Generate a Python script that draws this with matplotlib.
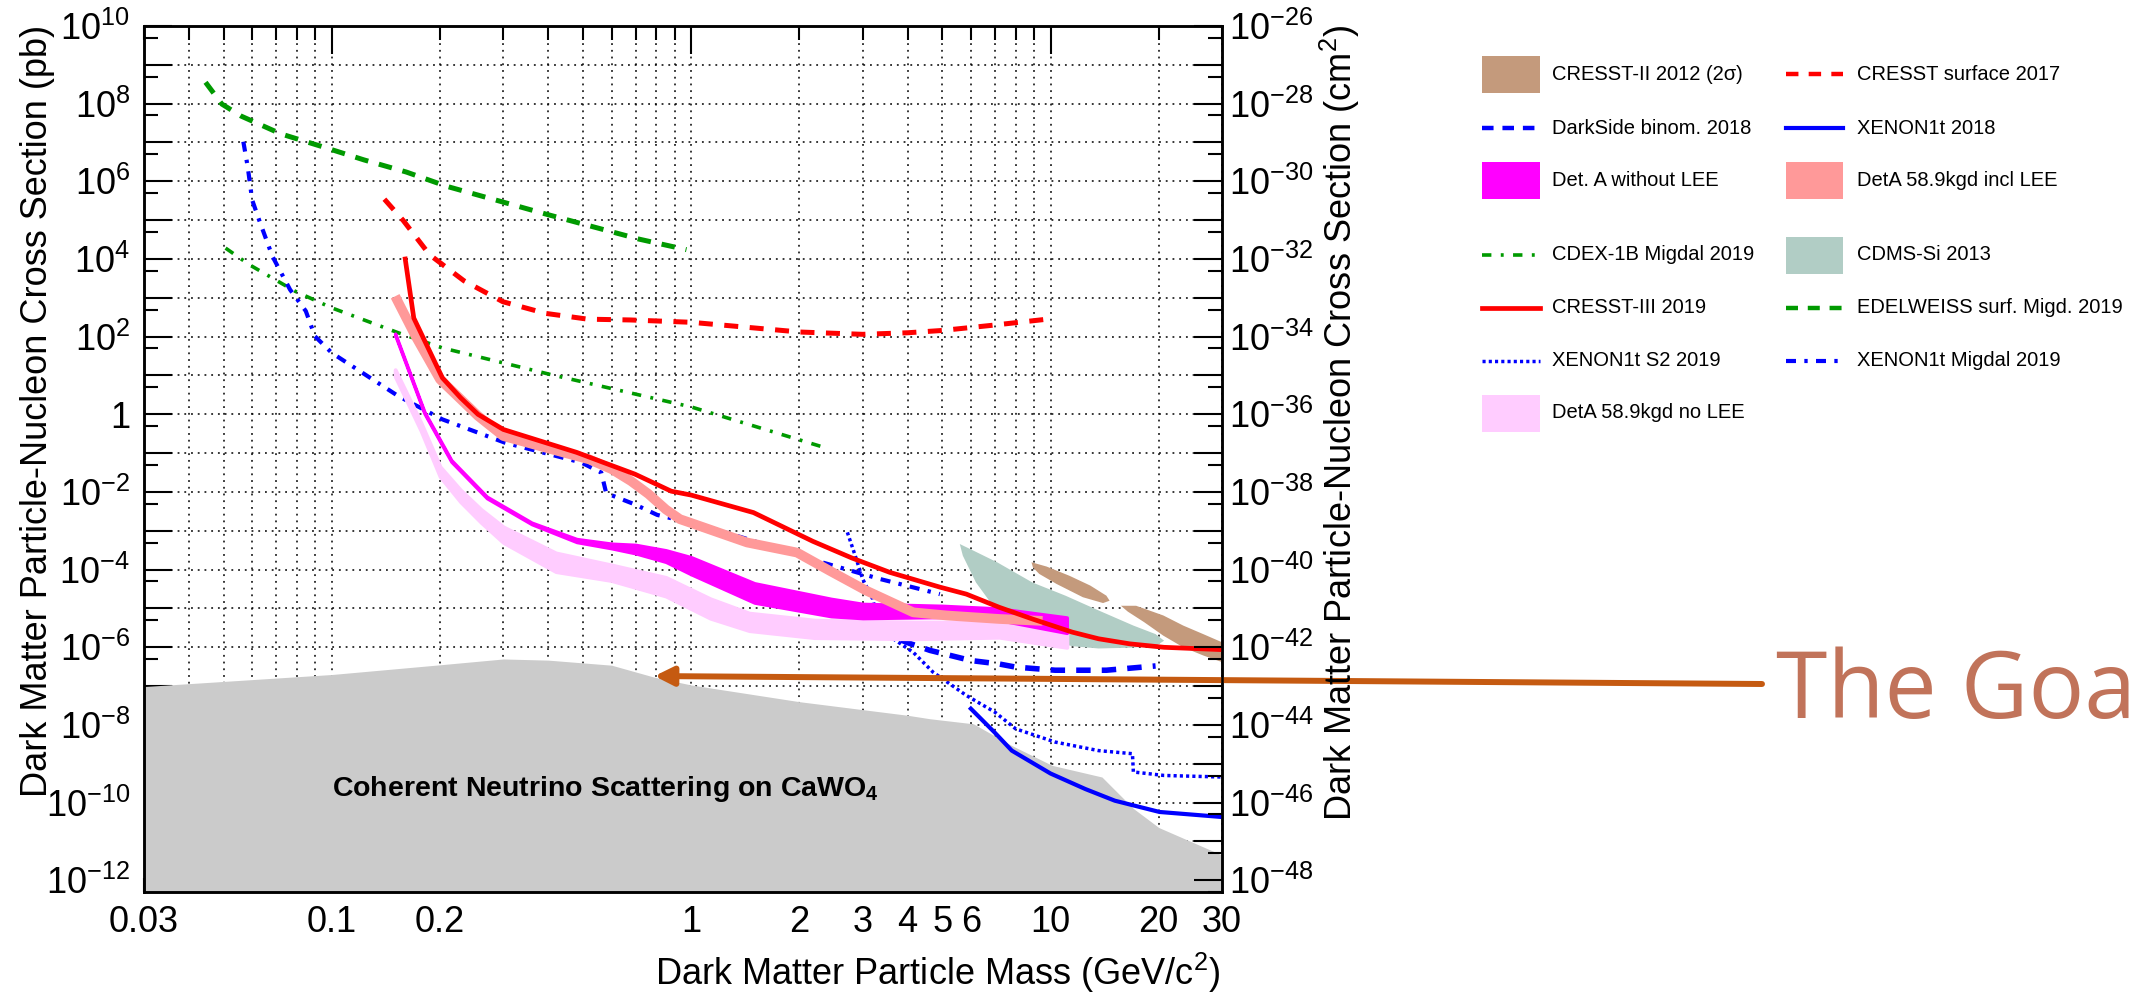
import numpy as np
import matplotlib
matplotlib.use('Agg')
import matplotlib.pyplot as plt
from matplotlib.patches import Rectangle
from matplotlib.lines import Line2D

plt.rcParams['font.family'] = ['Liberation Sans', 'DejaVu Sans']
plt.rcParams['mathtext.fontset'] = 'custom'
plt.rcParams['mathtext.rm'] = 'Liberation Sans'
plt.rcParams['mathtext.it'] = 'Liberation Sans:italic'
plt.rcParams['mathtext.bf'] = 'Liberation Sans:bold'
plt.rcParams['mathtext.sf'] = 'Liberation Sans'

# %%
# data: masses in GeV/c^2, cross sections as log10(sigma / pb)
edelweiss_m = [0.0445, 0.0494, 0.0559, 0.0722, 0.0935, 0.123, 0.161, 0.209, 0.4, 0.717, 0.97]
edelweiss_lg = [8.55, 7.99, 7.68, 7.22, 6.90, 6.55, 6.24, 5.87, 5.14, 4.51, 4.24]

cresst_surf_m = [0.14, 0.158, 0.187, 0.233, 0.299, 0.393, 0.516, 0.677, 1.0, 2.0, 3.0, 4.0, 5.0, 7.0, 10.0]
cresst_surf_lg = [5.54, 4.99, 4.11, 3.44, 2.90, 2.60, 2.45, 2.43, 2.37, 2.12, 2.06, 2.10, 2.16, 2.30, 2.46]

cdex_m = [0.0506, 0.059, 0.079, 0.1, 0.153, 0.203, 0.404, 1.0, 2.36]
cdex_lg = [4.28, 3.85, 3.17, 2.74, 2.10, 1.71, 1.03, 0.19, -0.86]

xe_migdal_m = [0.0567, 0.0583, 0.06, 0.0627, 0.0683, 0.0765, 0.0846, 0.0897, 0.1, 0.153, 0.203,
               0.303, 0.404, 0.494, 0.562, 0.58, 0.697, 0.804, 1.08, 1.43, 2.23, 3.35, 4.92]
xe_migdal_lg = [7.02, 6.38, 5.52, 5.01, 4.07, 3.21, 2.66, 2.01, 1.58, 0.47, -0.13,
                -0.73, -1.03, -1.24, -1.50, -2.03, -2.32, -2.59, -2.87, -3.21, -3.77, -4.24, -4.63]

cresst3_m = [0.16, 0.169, 0.203, 0.228, 0.255, 0.30, 0.48, 0.57, 0.697, 0.88, 1.0, 1.49, 2.18,
             2.8, 3.57, 4.92, 5.83, 7.2, 8.9, 11.5, 13.6, 16.6, 20.7, 30.0]
cresst3_lg = [4.0, 2.48, 0.94, 0.43, 0.0, -0.39, -0.98, -1.24, -1.54, -1.98, -2.08, -2.53, -3.27,
              -3.70, -4.07, -4.45, -4.63, -4.97, -5.27, -5.61, -5.78, -5.91, -6.00, -6.06]

detA_lee_m = [0.15, 0.171, 0.2, 0.255, 0.30, 0.42, 0.52, 0.6, 0.68, 0.76, 0.85, 0.93, 1.0,
              1.43, 1.97, 2.43, 3.07, 4.15, 5.14, 7.2, 9.5]
detA_lee_lg = [3.04, 2.01, 0.9, -0.04, -0.56, -0.93, -1.16, -1.41, -1.72, -2.05, -2.45, -2.70, -2.80,
               -3.30, -3.56, -4.03, -4.54, -5.10, -5.18, -5.27, -5.32]

detA_m = [0.15, 0.181, 0.215, 0.27, 0.36, 0.48, 0.6, 0.7, 0.85, 1.0, 1.5, 2.45, 3.0, 5.0, 7.2, 11.1]
detA_hi = [2.08, 0.06, -1.18, -2.12, -2.79, -3.21, -3.33, -3.36, -3.50, -3.68, -4.35, -4.75, -4.88, -4.93, -5.00, -5.23]
detA_lo = [2.04, 0.02, -1.22, -2.16, -2.83, -3.29, -3.45, -3.58, -3.80, -4.12, -4.85, -5.20, -5.25, -5.22, -5.30, -5.63]

detA_nolee_m = [0.15, 0.177, 0.2, 0.228, 0.26, 0.3, 0.42, 0.6, 0.85, 1.13, 1.45, 2.2, 4.15, 7.2, 11.1]
detA_nolee_hi = [1.15, -0.22, -1.35, -1.95, -2.45, -2.90, -3.57, -3.88, -4.20, -4.75, -5.12, -5.30, -5.35, -5.35, -5.63]
detA_nolee_lo = [0.98, -0.42, -1.60, -2.25, -2.78, -3.30, -4.05, -4.28, -4.68, -5.25, -5.57, -5.75, -5.78, -5.74, -6.00]

xe_s2_m = [2.72, 2.86, 3.0, 3.2, 3.35, 3.65, 4.15, 4.71, 5.83, 7.0, 8.0, 10.3, 13.6, 16.9, 17.0, 20.7, 30.0]
xe_s2_lg = [-3.04, -3.64, -4.24, -4.76, -5.53, -5.78, -6.13, -6.64, -7.24, -7.67, -8.10, -8.44, -8.66, -8.74, -9.21, -9.30, -9.34]

darkside_m = [3.3, 3.97, 4.62, 6.0, 7.2, 8.0, 10.3, 14.3, 19.6]
darkside_lg = [-5.55, -5.87, -6.08, -6.34, -6.43, -6.51, -6.59, -6.59, -6.48]

xe2018_m = [6.0, 7.0, 7.8, 10.0, 12.5, 15.1, 20.1, 30.0]
xe2018_lg = [-7.58, -8.20, -8.66, -9.25, -9.65, -9.95, -10.24, -10.37]

nu_m = [0.03, 0.1, 0.2, 0.3, 0.4, 0.6, 0.79, 1.0, 2.0, 4.0, 4.62, 6.1, 7.8, 10.1, 13.9, 17.0, 20.0, 30.0]
nu_lg = [-7.01, -6.70, -6.45, -6.30, -6.33, -6.46, -6.77, -6.97, -7.40, -7.75, -7.84, -7.97, -8.53, -9.04, -9.34, -10.15, -10.64, -11.35]

cdms_m = [5.59, 6.1, 7.1, 8.9, 11.0, 13.6, 17.0, 19.6, 20.7, 19.6, 16.6, 13.6, 11.5, 9.3, 7.8, 6.8, 6.2, 5.7]
cdms_lg = [-3.34, -3.51, -3.81, -4.33, -4.67, -5.05, -5.44, -5.66, -5.83, -5.97, -6.01, -6.03, -5.97, -5.78, -5.35, -4.84, -4.33, -3.64]

cresst2a_m = [8.85, 9.75, 11.3, 12.9, 14.3, 14.6, 14.0, 12.3, 10.4, 9.3, 8.93]
cresst2a_lg = [-3.81, -3.92, -4.16, -4.41, -4.67, -4.80, -4.86, -4.71, -4.37, -4.11, -3.94]
cresst2b_m = [15.7, 17.3, 20.6, 23.4, 26.6, 30.0, 30.0, 26.6, 23.4, 20.6, 18.2, 16.4]
cresst2b_lg = [-4.93, -4.93, -5.18, -5.44, -5.66, -5.87, -6.38, -6.21, -6.00, -5.70, -5.35, -5.08]

goal_m, goal_lg = 0.79, -6.74

W, H = 2139, 993
ymin, ymax = 5e-13, 1e10

def sig(a):
    return 10.0**np.asarray(a)

# line styles shared by plot and legend
green = '#009a00'
st_edel = dict(color=green, lw=3.6, ls=(0, (2.7, 2.2)))
st_csurf = dict(color='red', lw=3.6, ls=(0, (2.8, 2.3)))
st_cdex = dict(color=green, lw=2.6, ls=(0, (2.6, 2.6, 0.8, 2.6)))
st_xmig = dict(color='blue', lw=3.0, ls=(0, (2.4, 2.0, 0.8, 2.0)))
st_xs2 = dict(color='blue', lw=2.5, ls=(0, (0.9, 0.9)))
st_dside = dict(color='blue', lw=4.0, ls=(0, (2.6, 2.0)))
st_x18 = dict(color='blue', lw=3.0)
st_c3 = dict(color='red', lw=3.4)

# %%
fig = plt.figure(figsize=(W/100, H/100), dpi=100)
ax = fig.add_axes([144/W, 1-892/H, (1222-144)/W, (892-26)/H])
ax.set_xscale('log')
ax.set_yscale('log')
ax.set_xlim(0.03, 30)
ax.set_ylim(ymin, ymax)
ax.set_axisbelow(True)

ax.fill_between(nu_m, ymin, sig(nu_lg), color='#cbcbcb', lw=0, zorder=1)
ax.fill(cdms_m, sig(cdms_lg), color='#b1cdc5', lw=0, zorder=2)
ax.fill(cresst2a_m, sig(cresst2a_lg), color='#c49a7c', lw=0, zorder=2)
ax.fill(cresst2b_m, sig(cresst2b_lg), color='#c49a7c', lw=0, zorder=2)

ax.plot(edelweiss_m, sig(edelweiss_lg), zorder=3, **st_edel)
ax.plot(cresst_surf_m, sig(cresst_surf_lg), zorder=3, **st_csurf)
ax.plot(cdex_m, sig(cdex_lg), zorder=3, **st_cdex)
ax.plot(xe_migdal_m, sig(xe_migdal_lg), zorder=3, **st_xmig)
ax.plot(xe_s2_m, sig(xe_s2_lg), zorder=3, **st_xs2)
ax.plot(darkside_m, sig(darkside_lg), zorder=3, **st_dside)
ax.plot(xe2018_m, sig(xe2018_lg), zorder=7, **st_x18)

ax.fill_between(detA_nolee_m, sig(detA_nolee_lo), sig(detA_nolee_hi), facecolor='#ffccff',
                edgecolor='#ffccff', lw=2.8, zorder=4)
ax.fill_between(detA_m, sig(detA_lo), sig(detA_hi), facecolor='#ff00ff',
                edgecolor='#ff00ff', lw=2.4, zorder=5)
ax.plot(detA_lee_m, sig(detA_lee_lg), color='#ff9999', lw=7, solid_capstyle='butt', zorder=6)
ax.plot(cresst3_m, sig(cresst3_lg), zorder=7, **st_c3)

ax.text(0.1, 1.5e-10, 'Coherent Neutrino Scattering on CaWO$_{\\mathbf{4}}$', fontsize=20.5,
        fontweight='bold', ha='left', va='baseline', zorder=8)

# axes / ticks in ROOT style
for s in ax.spines.values():
    s.set_linewidth(1.8)
xmaj = [0.1, 1, 10]
xmin_t = [0.03, 0.04, 0.05, 0.06, 0.07, 0.08, 0.09, 0.2, 0.3, 0.4, 0.5, 0.6, 0.7, 0.8, 0.9,
          2, 3, 4, 5, 6, 7, 8, 9, 20, 30]
xmin_lab = ['0.03', '', '', '', '', '', '', '0.2', '', '', '', '', '', '', '',
            '2', '3', '4', '5', '6', '', '', '', '20', '30']
ax.set_xticks(xmaj, ['0.1', '1', '10'])
ax.set_xticks(xmin_t, xmin_lab, minor=True)

exps = list(range(-12, 11))
ylab = []
for k in exps:
    if k % 2:
        ylab.append('')
    elif k == 0:
        ylab.append('1')
    else:
        ylab.append('$10^{%d}$' % k)
ax.set_yticks([10.0**k for k in exps], ylab)
ax.set_yticks([5*10.0**k for k in range(-13, 10)], minor=True)
ax.yaxis.set_minor_formatter(matplotlib.ticker.NullFormatter())

ax.tick_params(which='both', direction='in', top=True, right=False, width=1.5, labelsize=26)
ax.tick_params(which='major', length=20)
ax.tick_params(which='minor', length=10)
ax.tick_params(axis='x', which='both', pad=9)
ax.tick_params(axis='y', which='both', pad=10)

grid_ls = (0, (1.2, 3.2))
ax.grid(True, axis='x', which='both', color='black', lw=1.1, ls=grid_ls)
ax.grid(True, axis='y', which='major', color='black', lw=1.1, ls=grid_ls)

ax2 = ax.twinx()
ax2.set_yscale('log')
ax2.set_ylim(ymin*1e-36, ymax*1e-36)
exps2 = list(range(-48, -25))
ax2.set_yticks([10.0**k for k in exps2], ['' if k % 2 else '$10^{%d}$' % k for k in exps2])
ax2.set_yticks([5*10.0**k for k in range(-49, -26)], minor=True)
ax2.yaxis.set_minor_formatter(matplotlib.ticker.NullFormatter())
ax2.tick_params(which='both', direction='in', width=1.5, labelsize=26, pad=5)
ax2.tick_params(which='major', length=20)
ax2.tick_params(which='minor', length=10)
for s in ax2.spines.values():
    s.set_linewidth(1.8)

fig.text(38/W, 1-25/H, 'Dark Matter Particle-Nucleon Cross Section (pb)', rotation=90,
         ha='center', va='top', fontsize=26)
fig.text(1340/W, 1-25/H, 'Dark Matter Particle-Nucleon Cross Section (cm$^{2}$)', rotation=90,
         ha='center', va='top', fontsize=26)
fig.text(1220/W, 1-985/H, 'Dark Matter Particle Mass (GeV/c$^{2}$)', ha='right',
         va='baseline', fontsize=26)

# %%
# legend (two blocks, drawn by hand to keep ROOT layout)
rows = [74, 128, 180, 255, 308, 361, 413]
sw_l = [1482, 1786]
sw_r = [1540, 1843]
txt_x = [1552, 1857]
entries = [
    (0, 0, 'CRESST-II 2012 (2σ)', 'patch', dict(color='#c49a7c')),
    (1, 0, 'CRESST surface 2017', 'line', dict(st_csurf, lw=3.2)),
    (0, 1, 'DarkSide binom. 2018', 'line', dict(st_dside, lw=3.2)),
    (1, 1, 'XENON1t 2018', 'line', st_x18),
    (0, 2, 'Det. A without LEE', 'patch', dict(color='#ff00ff')),
    (1, 2, 'DetA 58.9kgd incl LEE', 'patch', dict(color='#ff9999')),
    (0, 3, 'CDEX-1B Migdal 2019', 'line', st_cdex),
    (1, 3, 'CDMS-Si 2013', 'patch', dict(color='#b1cdc5')),
    (0, 4, 'CRESST-III 2019', 'line', st_c3),
    (1, 4, 'EDELWEISS surf. Migd. 2019', 'line', dict(st_edel, lw=3.2)),
    (0, 5, 'XENON1t S2 2019', 'line', st_xs2),
    (1, 5, 'XENON1t Migdal 2019', 'line', st_xmig),
    (0, 6, 'DetA 58.9kgd no LEE', 'patch', dict(color='#ffccff')),
]
for col, row, label, kind, st in entries:
    y = rows[row]
    if kind == 'patch':
        fig.add_artist(Rectangle((sw_l[col]/W, 1-(y+18.5)/H), (sw_r[col]-sw_l[col])/W, 37/H,
                                 transform=fig.transFigure, lw=0, **st))
    else:
        fig.add_artist(Line2D([sw_l[col]/W, sw_r[col]/W], [1-y/H, 1-y/H],
                              transform=fig.transFigure, **st))
    fig.text(txt_x[col]/W, 1-y/H, label, ha='left', va='center', fontsize=14.5)

# %%
# annotation
ax.annotate('', xy=(goal_m, 10**goal_lg), xycoords='data',
            xytext=(1762/W, 1-684/H), textcoords='figure fraction',
            arrowprops=dict(arrowstyle='-|>,head_length=1.1,head_width=0.55', color='#C55A11',
                            lw=4.3, shrinkA=0, shrinkB=0, mutation_scale=10),
            annotation_clip=False, zorder=20)
fig.text(1776/W, 1-718/H, 'The Goal', fontsize=67, family='Open Sans', color='#C1735A',
         ha='left', va='baseline')

fig.savefig('out.png', dpi=100)
